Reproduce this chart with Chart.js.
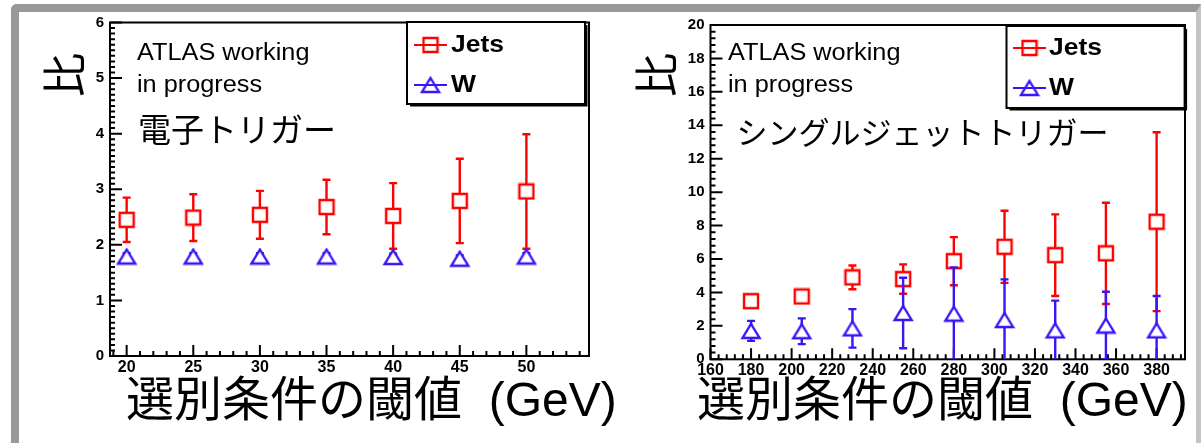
<!DOCTYPE html>
<html>
<head>
<meta charset="utf-8">
<script src="https://cdn.jsdelivr.net/npm/chart.js@4.4.1/dist/chart.umd.min.js"></script>
<style>
  html, body { margin: 0; padding: 0; background: #fff; }
  body { width: 1203px; height: 443px; position: relative; overflow: hidden; }
  #frame {
    position: absolute; left: 11px; top: 4px; width: 1177px; height: 470px;
    border-top: 8px solid #999; border-left: 8px solid #999; border-right: 5px solid #c4c4c4;
    border-top-left-radius: 6px;
  }
  canvas { position: absolute; top: 0; }
  #electron { left: 0; }
  #singlejet { left: 600px; }
</style>
</head>
<body>
<div id="frame"></div>
<canvas id="electron" width="650" height="443"></canvas>
<canvas id="singlejet" width="603" height="443"></canvas>
<script>
// ---- electron trigger panel ----
const eThresholds = [20, 25, 30, 35, 40, 45, 50];
const eJetsRatio  = [2.45, 2.49, 2.54, 2.68, 2.52, 2.79, 2.96];
const eJetsErr    = [0.40, 0.42, 0.43, 0.49, 0.59, 0.76, 1.03];
const eWRatio     = [1.79, 1.79, 1.79, 1.79, 1.78, 1.75, 1.79];
const eWErr       = [0.06, 0.06, 0.06, 0.06, 0.06, 0.06, 0.06];
const eXTicks     = [20, 25, 30, 35, 40, 45, 50];
const eYTicks     = [0, 1, 2, 3, 4, 5, 6];

// ---- single-jet trigger panel ----
const jThresholds = [180, 205, 230, 255, 280, 305, 330, 355, 380];
const jJetsRatio  = [3.48, 3.76, 4.90, 4.80, 5.87, 6.73, 6.23, 6.34, 8.23];
const jJetsErr    = [0.30, 0.30, 0.71, 0.88, 1.44, 2.16, 2.44, 3.03, 5.35];
const jWRatio     = [1.70, 1.68, 1.85, 2.77, 2.73, 2.35, 1.73, 2.02, 1.73];
const jWErr       = [0.60, 0.77, 1.15, 2.11, 2.77, 2.43, 1.78, 2.02, 2.06];
const jXTicks     = [160, 180, 200, 220, 240, 260, 280, 300, 320, 340, 360, 380];
const jYTicks     = [0, 2, 4, 6, 8, 10, 12, 14, 16, 18, 20];

const seriesNames  = ['Jets', 'W'];
const yTitle       = '比';
const xTitle       = '選別条件の閾値  (GeV)';
const statusLines  = ['ATLAS working', 'in progress'];
const triggerNames = ['電子トリガー', 'シングルジェットトリガー'];

const RED = '#ff0000';
const BLUE = '#3a14f5';
const LATIN = '"Liberation Sans", Arial, Helvetica, sans-serif';
const CJK = '"Liberation Sans", "Noto Sans CJK JP", sans-serif';

// open markers: white-filled for the plot, hollow for the legend
function makeMarker(shape, color, filled) {
  const c = document.createElement('canvas');
  const g = c.getContext('2d');
  if (shape === 'square') {
    c.width = 18; c.height = 18;
  } else {
    c.width = 22; c.height = 18;
  }
  g.lineWidth = 2.4;
  g.strokeStyle = color;
  g.fillStyle = '#fff';
  g.beginPath();
  if (shape === 'square') {
    g.rect(2, 2, 14, 14);
  } else {
    g.moveTo(11, 2); g.lineTo(19.5, 16); g.lineTo(2.5, 16); g.closePath();
  }
  if (filled) g.fill();
  g.stroke();
  return c;
}

// vertical error bars with small end caps, drawn just before each dataset's markers
const errorBars = {
  id: 'errorBars',
  beforeDatasetDraw(chart, args) {
    const ds = chart.data.datasets[args.index];
    if (!ds.errors) return;
    const { ctx, chartArea: a } = chart;
    const y = chart.scales.y;
    ctx.save();
    ctx.beginPath();
    ctx.rect(a.left, a.top, a.right - a.left, a.bottom - a.top);
    ctx.clip();
    ctx.strokeStyle = ds.borderColor;
    ctx.lineWidth = 2.4;
    ctx.beginPath();
    args.meta.data.forEach((pt, i) => {
      const v = ds.data[i].y, e = ds.errors[i];
      const hi = y.getPixelForValue(v + e), lo = y.getPixelForValue(v - e);
      ctx.moveTo(pt.x, hi); ctx.lineTo(pt.x, lo);
      ctx.moveTo(pt.x - 4, hi); ctx.lineTo(pt.x + 4, hi);
      ctx.moveTo(pt.x - 4, lo); ctx.lineTo(pt.x + 4, lo);
    });
    ctx.stroke();
    ctx.restore();
  }
};

// plot frame with inward major and minor ticks on the left and bottom axes
const frameTicks = {
  id: 'frameTicks',
  beforeDatasetsDraw(chart, _args, o) {
    const { ctx, chartArea: a } = chart;
    const { x, y } = chart.scales;
    ctx.save();
    ctx.strokeStyle = '#000';
    ctx.lineWidth = 2;
    ctx.strokeRect(a.left, a.top, a.right - a.left, a.bottom - a.top);
    ctx.beginPath();
    const isMajor = (scale, v) => scale.ticks.some(t => Math.abs(t.value - v) < 1e-6);
    for (let k = Math.ceil(x.min / o.xMinor - 1e-9); k * o.xMinor <= x.max + 1e-9; k++) {
      const v = k * o.xMinor, px = x.getPixelForValue(v);
      ctx.moveTo(px, a.bottom);
      ctx.lineTo(px, a.bottom - (isMajor(x, v) ? 11 : 5));
    }
    for (let k = Math.ceil(y.min / o.yMinor - 1e-9); k * o.yMinor <= y.max + 1e-9; k++) {
      const v = k * o.yMinor, py = y.getPixelForValue(v);
      ctx.moveTo(a.left, py);
      ctx.lineTo(a.left + (isMajor(y, v) ? 12 : 5), py);
    }
    ctx.stroke();
    ctx.restore();
  }
};

// free-standing labels: axis titles, status text, trigger name
const panelText = {
  id: 'panelText',
  afterDraw(chart, _args, o) {
    const ctx = chart.ctx;
    o.items.forEach(t => {
      ctx.save();
      ctx.translate(t.x, t.y);
      if (t.rotate) ctx.rotate(t.rotate);
      ctx.scale(t.sx || 1, 1);
      ctx.font = t.font;
      ctx.fillStyle = '#000';
      ctx.textAlign = t.align || 'left';
      ctx.textBaseline = t.baseline || 'middle';
      ctx.fillText(t.text, 0, 0);
      ctx.restore();
    });
  }
};

// boxed legend with line + marker samples
const boxLegend = {
  id: 'boxLegend',
  afterDraw(chart, _args, o) {
    const ctx = chart.ctx;
    const [x1, y1, x2, y2] = o.box;
    ctx.save();
    ctx.fillStyle = '#fff';
    ctx.fillRect(x1, y1, x2 - x1, y2 - y1);
    ctx.strokeStyle = '#000';
    ctx.lineWidth = 2;
    ctx.strokeRect(x1, y1, x2 - x1, y2 - y1);
    ctx.beginPath();
    ctx.moveTo(x1 + 3, y2 + 1.5); ctx.lineTo(x2 + 1.5, y2 + 1.5); ctx.lineTo(x2 + 1.5, y1 + 3);
    ctx.stroke();
    chart.data.datasets.forEach((ds, i) => {
      const yy = o.rows[i];
      ctx.strokeStyle = ds.borderColor;
      ctx.lineWidth = 2;
      ctx.beginPath();
      ctx.moveTo(o.line[0], yy); ctx.lineTo(o.line[1], yy);
      ctx.stroke();
      const m = ds.legendMarker, cx = (o.line[0] + o.line[1]) / 2;
      ctx.drawImage(m, cx - m.width / 2, yy - m.height / 2);
      ctx.save();
      ctx.translate(o.textX, yy);
      ctx.scale(1.15, 1);
      ctx.font = 'bold 23px ' + LATIN;
      ctx.fillStyle = '#000';
      ctx.textBaseline = 'middle';
      ctx.fillText(ds.label, 0, 1);
      ctx.restore();
    });
    ctx.restore();
  }
};

function buildPanel(canvasId, p) {
  const tickFont = { family: LATIN, weight: 'bold' };
  const datasets = [
    {
      label: seriesNames[0],
      data: p.xs.map((x, i) => ({ x, y: p.jets[i] })),
      errors: p.jetsErr,
      borderColor: RED,
      pointStyle: makeMarker('square', RED, true),
      legendMarker: makeMarker('square', RED, false),
      pointRadius: 8,
      order: 2
    },
    {
      label: seriesNames[1],
      data: p.xs.map((x, i) => ({ x, y: p.w[i] })),
      errors: p.wErr,
      borderColor: BLUE,
      pointStyle: makeMarker('triangle', BLUE, true),
      legendMarker: makeMarker('triangle', BLUE, false),
      pointRadius: 8,
      order: 1
    }
  ];
  return new Chart(document.getElementById(canvasId), {
    type: 'scatter',
    data: { datasets },
    plugins: [frameTicks, errorBars, panelText, boxLegend],
    options: {
      responsive: false,
      animation: false,
      devicePixelRatio: 1,
      layout: { padding: p.padding },
      plugins: {
        legend: { display: false },
        tooltip: { enabled: false },
        frameTicks: { xMinor: p.xMinor, yMinor: p.yMinor },
        boxLegend: p.legend,
        panelText: { items: p.texts }
      },
      scales: {
        x: {
          type: 'linear', min: p.xMin, max: p.xMax,
          afterBuildTicks: s => { s.ticks = p.xTicks.map(v => ({ value: v })); },
          afterFit: s => { s.height = 30; },
          grid: { display: false, drawTicks: false },
          border: { display: false },
          ticks: { font: { ...tickFont, size: 16 }, color: '#000', padding: 2, maxRotation: 0, autoSkip: false }
        },
        y: {
          type: 'linear', min: p.yMin, max: p.yMax,
          afterBuildTicks: s => { s.ticks = p.yTicks.map(v => ({ value: v })); },
          afterFit: s => { s.width = 40; },
          grid: { display: false, drawTicks: false },
          border: { display: false },
          ticks: { font: { ...tickFont, size: 15 }, color: '#000', padding: 6, autoSkip: false }
        }
      }
    }
  });
}

buildPanel('electron', {
  xs: eThresholds, jets: eJetsRatio, jetsErr: eJetsErr, w: eWRatio, wErr: eWErr,
  xTicks: eXTicks, yTicks: eYTicks,
  xMin: 18.75, xMax: 54.7, yMin: 0, yMax: 6, xMinor: 1, yMinor: 0.1,
  padding: { left: 70, top: 22.5, right: 61, bottom: 57 },
  legend: { box: [407, 22, 585, 104], rows: [45, 85], line: [414, 447], textX: 451 },
  texts: [
    { text: yTitle, x: 64, y: 75, rotate: -Math.PI / 2, align: 'center', font: '44px "Noto Sans CJK JP", sans-serif' },
    { text: xTitle, x: 126, y: 403, font: '48px ' + CJK },
    { text: statusLines[0], x: 137, y: 60, baseline: 'alphabetic', sx: 1.1, font: '23px ' + LATIN },
    { text: statusLines[1], x: 137, y: 92, baseline: 'alphabetic', sx: 1.1, font: '23px ' + LATIN },
    { text: triggerNames[0], x: 138, y: 129, font: '33px "Noto Sans CJK JP", sans-serif' }
  ]
});

buildPanel('singlejet', {
  xs: jThresholds, jets: jJetsRatio, jetsErr: jJetsErr, w: jWRatio, wErr: jWErr,
  xTicks: jXTicks, yTicks: jYTicks,
  xMin: 160, xMax: 394, yMin: 0, yMax: 20, xMinor: 4, yMinor: 0.4,
  padding: { left: 70.5, top: 25, right: 18, bottom: 53.7 },
  legend: { box: [406.5, 26, 584.6, 108], rows: [48, 88], line: [413, 446], textX: 449 },
  texts: [
    { text: yTitle, x: 56, y: 75, rotate: -Math.PI / 2, align: 'center', font: '44px "Noto Sans CJK JP", sans-serif' },
    { text: xTitle, x: 97, y: 403, font: '48px ' + CJK },
    { text: statusLines[0], x: 128, y: 60, baseline: 'alphabetic', sx: 1.1, font: '23px ' + LATIN },
    { text: statusLines[1], x: 128, y: 92, baseline: 'alphabetic', sx: 1.1, font: '23px ' + LATIN },
    { text: triggerNames[1], x: 136.5, y: 132, font: '31px "Noto Sans CJK JP", sans-serif' }
  ]
});
</script>
</body>
</html>
